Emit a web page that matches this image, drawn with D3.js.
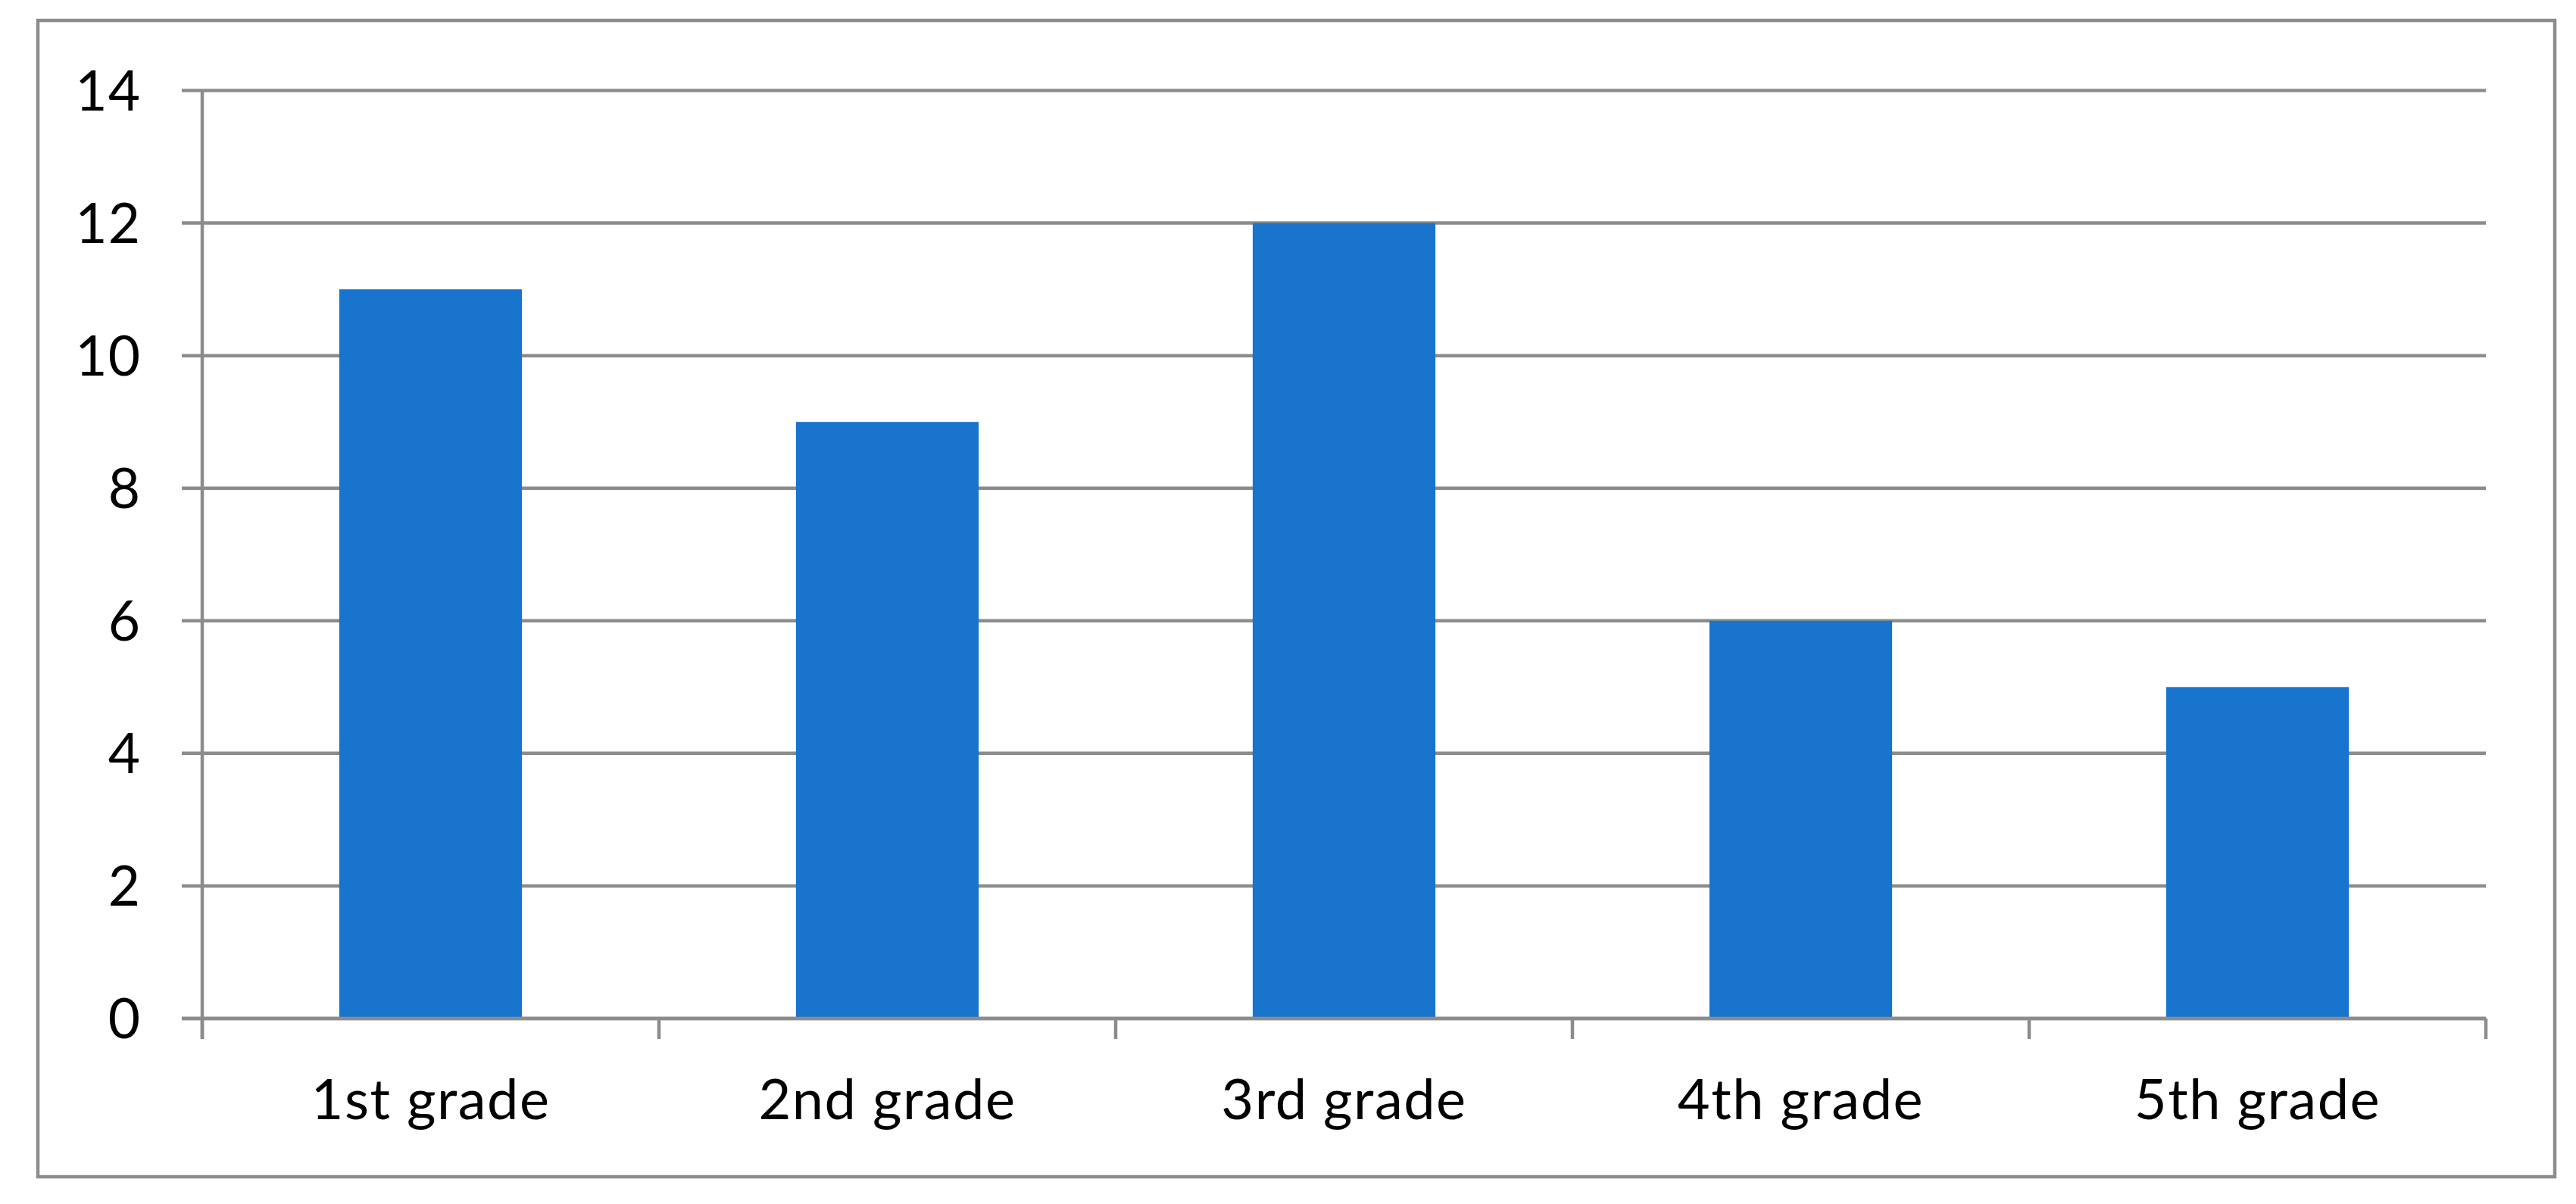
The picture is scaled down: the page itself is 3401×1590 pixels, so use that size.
<!DOCTYPE html>
<html><head><meta charset="utf-8">
<script src="https://cdn.jsdelivr.net/npm/d3@7"></script>
<style>html,body{margin:0;padding:0;background:#fff;}svg{display:block;}</style>
</head><body>
<svg id="chart" width="3401" height="1590"></svg>
<script>
const categories = ["1st grade","2nd grade","3rd grade","4th grade","5th grade"];
const values = [11, 9, 12, 6, 5];
const yTicks = [0, 2, 4, 6, 8, 10, 12, 14];

(function(){
const svg = d3.select("#chart");
const grey = "#8c8c8c";
const pLeft = 267, pRight = 3282, pTop = 119.5, pBottom = 1345;

svg.append("rect").attr("x",50).attr("y",27).attr("width",3323).attr("height",1527)
  .attr("fill","#fff").attr("stroke",grey).attr("stroke-width",4.5);

const x = d3.scaleBand().domain(categories).range([pLeft,pRight]).paddingInner(0.6).paddingOuter(0.3);
const y = d3.scaleLinear().domain([0,14]).range([pBottom,pTop]);

// gridlines
svg.append("g").selectAll("line").data(yTicks).join("line")
  .attr("x1",240).attr("x2",pRight).attr("y1",d=>y(d)).attr("y2",d=>y(d))
  .attr("stroke",grey).attr("stroke-width",4.5);

// y axis line
svg.append("line").attr("x1",pLeft).attr("x2",pLeft).attr("y1",pTop).attr("y2",pBottom+27)
  .attr("stroke",grey).attr("stroke-width",4.5);

// bars
svg.append("g").selectAll("rect").data(values).join("rect")
  .attr("x",(d,i)=>x(categories[i])).attr("width",x.bandwidth())
  .attr("y",d=>y(d)).attr("height",d=>y(0)-y(d)).attr("fill","#1874cd");

// x axis line and ticks
svg.append("line").attr("x1",240).attr("x2",pRight).attr("y1",pBottom).attr("y2",pBottom)
  .attr("stroke",grey).attr("stroke-width",4.5);
const step = x.step();
const bounds = d3.range(categories.length+1).map(i=>pLeft+i*step);
svg.append("g").selectAll("line").data(bounds).join("line")
  .attr("x1",d=>d).attr("x2",d=>d).attr("y1",pBottom).attr("y2",pBottom+27)
  .attr("stroke",grey).attr("stroke-width",4.5);

// y labels
svg.append("g").selectAll("text").data(yTicks).join("text")
  .attr("x",186).attr("y",d=>y(d)).attr("dy","0.36em").attr("text-anchor","end")
  .attr("font-family","Lato, sans-serif").attr("font-size",73).attr("fill","#000")
  .attr("letter-spacing","1px")
  .text(d=>d);

// x labels
svg.append("g").selectAll("text").data(categories).join("text")
  .attr("x",d=>x(d)+x.bandwidth()/2).attr("y",1478).attr("text-anchor","middle")
  .attr("font-family","Lato, sans-serif").attr("font-size",74).attr("fill","#000")
  .attr("letter-spacing","1.5px")
  .text(d=>d);
})();
</script>
</body></html>
